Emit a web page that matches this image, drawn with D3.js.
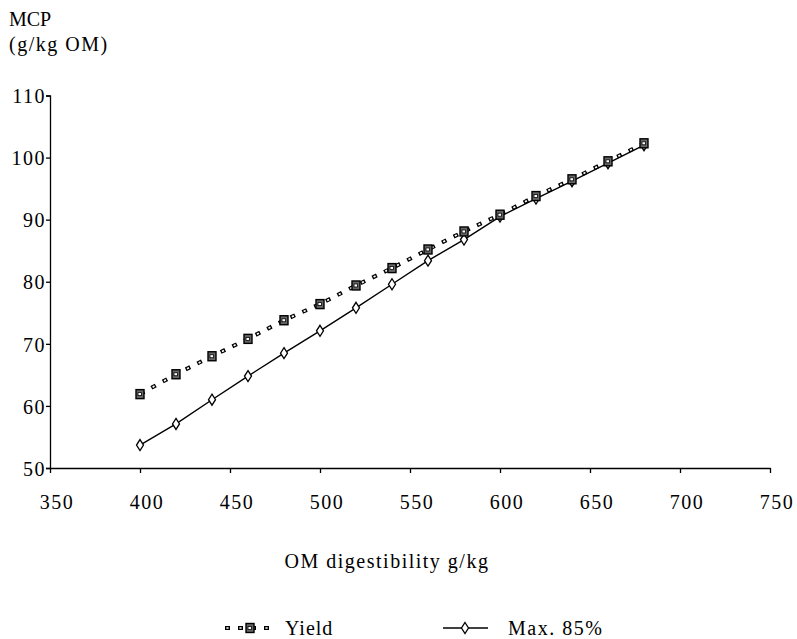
<!DOCTYPE html>
<html>
<head>
<meta charset="utf-8">
<script src="https://cdn.jsdelivr.net/npm/d3@7/dist/d3.min.js"></script>
<style>
  html, body { margin: 0; padding: 0; background: #fff; }
  svg text { font-family: "Liberation Serif", "Times New Roman", serif; fill: #000; }
</style>
</head>
<body>
<svg id="chart" width="797" height="639"></svg>
<script>
// OM digestibility (g/kg)
const digestibility = [400, 420, 440, 460, 480, 500, 520, 540, 560, 580, 600, 620, 640, 660, 680];
// Microbial crude protein (g/kg OM)
const yieldMCP = [61.9, 65.1, 68.0, 70.8, 73.8, 76.4, 79.4, 82.2, 85.2, 88.1, 90.8, 93.8, 96.5, 99.4, 102.3];
const max85MCP = [53.7, 57.1, 61.0, 64.8, 68.5, 72.1, 75.8, 79.6, 83.4, 86.8, 90.5, 93.4, 96.2, 99.1, 102.0];
const xTicks = [350, 400, 450, 500, 550, 600, 650, 700, 750];
const yTicks = [50, 60, 70, 80, 90, 100, 110];
const seriesNames = ["Yield", "Max. 85%"];

const svg = d3.select("#chart");
const font = 20;
const spacing = "1.5px";

const x = d3.scaleLinear().domain([350, 750]).range([50, 770]);
const y = d3.scaleLinear().domain([50, 110]).range([468, 95.5]);

// y axis
const yAxis = svg.append("g").attr("transform", "translate(50,0)")
  .call(d3.axisLeft(y).tickValues(yTicks).tickSize(4).tickPadding(0).tickSizeOuter(4));
// x axis
const xAxis = svg.append("g").attr("transform", "translate(0,468)")
  .call(d3.axisBottom(x).tickValues(xTicks).tickSize(5).tickPadding(22).tickSizeOuter(0));

[yAxis, xAxis].forEach(g => {
  g.attr("font-family", null);
  g.select(".domain").attr("stroke", "#000").attr("stroke-width", 1.3);
  g.selectAll(".tick line").attr("stroke", "#000").attr("stroke-width", 1.3);
  g.selectAll(".tick text").attr("font-size", font).attr("letter-spacing", spacing);
});
yAxis.selectAll(".tick text").attr("dy", "0.36em");
xAxis.selectAll(".tick text").attr("dy", "0.71em").attr("dx", 6.5);

// axis titles
svg.append("text").attr("x", 9).attr("y", 26).attr("font-size", font).text("MCP");
svg.append("text").attr("x", 9).attr("y", 51).attr("font-size", font)
  .attr("letter-spacing", spacing).text("(g/kg OM)");
svg.append("text").attr("x", 387).attr("y", 568).attr("text-anchor", "middle")
  .attr("font-size", font).attr("letter-spacing", spacing).text("OM digestibility g/kg");

const line = d3.line().x(d => x(d[0])).y(d => y(d[1]));
const yieldPts = digestibility.map((d, i) => [d, yieldMCP[i]]);
const maxPts = digestibility.map((d, i) => [d, max85MCP[i]]);

// Max. 85% : solid line
svg.append("path").attr("d", line(maxPts)).attr("fill", "none")
  .attr("stroke", "#000").attr("stroke-width", 1.4);

// Yield : chain of small hollow squares
function hollowDash(sel, d) {
  sel.append("path").attr("d", d).attr("fill", "none").attr("stroke", "#000")
    .attr("stroke-width", 4).attr("stroke-dasharray", "5,8");
  sel.append("path").attr("d", d).attr("fill", "none").attr("stroke", "#fff")
    .attr("stroke-width", 1.7).attr("stroke-dasharray", "2.2,10.8").attr("stroke-dashoffset", -1.4);
}
hollowDash(svg.append("g"), line(yieldPts));

function diamond(g, cx, cy) {
  g.append("path")
    .attr("d", `M${cx},${cy - 5.5}L${cx + 3.5},${cy}L${cx},${cy + 5.5}L${cx - 3.5},${cy}Z`)
    .attr("fill", "#fff").attr("stroke", "#000").attr("stroke-width", 1.3);
}
function squareMark(g, cx, cy) {
  g.append("rect").attr("x", cx - 4).attr("y", cy - 4.5).attr("width", 8).attr("height", 9)
    .attr("fill", "#666").attr("stroke", "#000").attr("stroke-width", 1.4);
  g.append("rect").attr("x", cx - 2).attr("y", cy - 1.5).attr("width", 3.5).attr("height", 3)
    .attr("fill", "#fff").attr("stroke", "#000").attr("stroke-width", 0.8);
}

const maxMarks = svg.append("g");
maxPts.forEach(p => diamond(maxMarks, x(p[0]), y(p[1])));
const yieldMarks = svg.append("g");
yieldPts.forEach(p => squareMark(yieldMarks, x(p[0]), y(p[1])));

// legend
const legY = 628;
const lg = svg.append("g");
hollowDash(lg, `M225,${legY}L274,${legY}`);
squareMark(lg, 250, legY);
lg.append("text").attr("x", 285).attr("y", 635).attr("font-size", font)
  .attr("letter-spacing", "1px").text(seriesNames[0]);
lg.append("path").attr("d", `M443,${legY}L488,${legY}`).attr("stroke", "#000").attr("stroke-width", 1.4);
diamond(lg, 465, legY);
lg.append("text").attr("x", 508).attr("y", 635).attr("font-size", font)
  .attr("letter-spacing", spacing).text(seriesNames[1]);
</script>
</body>
</html>
